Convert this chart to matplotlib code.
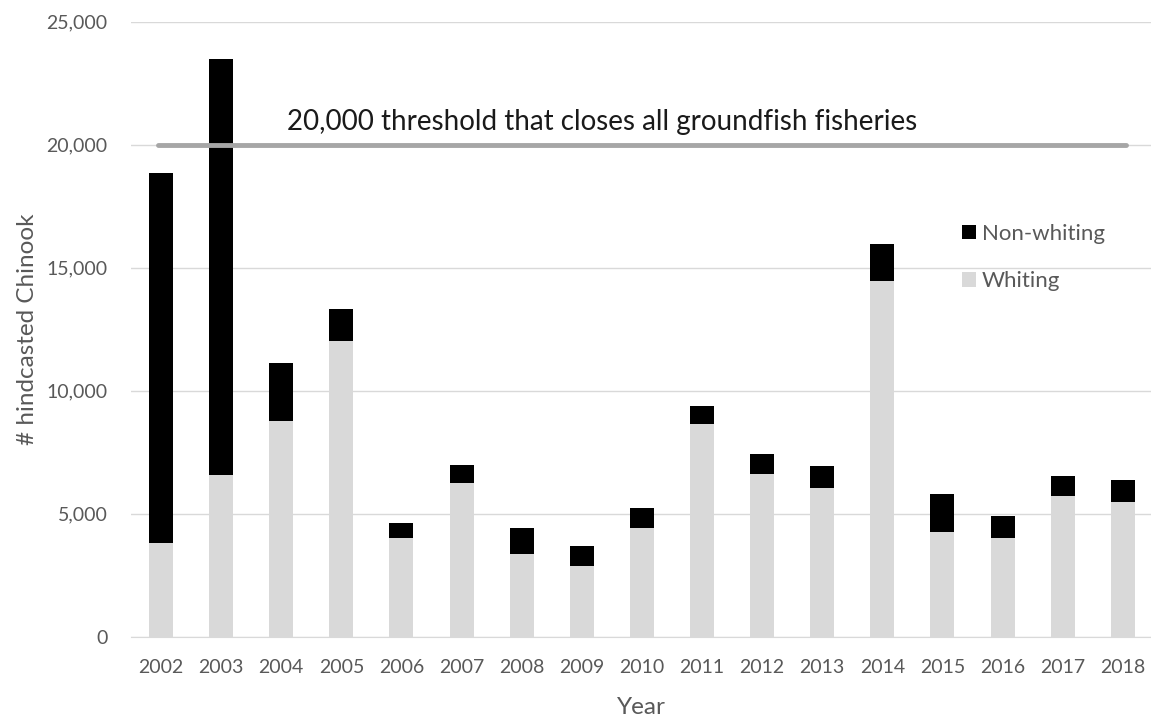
import numpy as np
import matplotlib
matplotlib.use("Agg")
import matplotlib.pyplot as plt
from matplotlib.patches import Patch

# ------------------------------
# Data
# ------------------------------
years = ['2002', '2003', '2004', '2005', '2006', '2007', '2008', '2009', '2010',
         '2011', '2012', '2013', '2014', '2015', '2016', '2017', '2018']
whiting = [3800, 6550, 8760, 12010, 4020, 6230, 3350, 2870, 4400,
           8630, 6610, 6040, 14460, 4260, 4000, 5700, 5470]
total = [18850, 23480, 11100, 13310, 4600, 6960, 4400, 3680, 5220,
         9370, 7400, 6930, 15950, 5800, 4890, 6510, 6350]
non_whiting = [t - w for t, w in zip(total, whiting)]
threshold = 20000
threshold_label = '20,000 threshold that closes all groundfish fisheries'
y_ticks = [0, 5000, 10000, 15000, 20000, 25000]

# ------------------------------
# Plot
# ------------------------------
plt.rcParams['font.family'] = ['Lato', 'DejaVu Sans']
fig = plt.figure(figsize=(11.51, 7.17), dpi=100)
ax = fig.add_axes([131 / 1151, 1 - 636.5 / 717, 1020 / 1151, 615 / 717])

x = np.arange(len(years))
ax.bar(x, whiting, width=0.4, color='#d9d9d9', zorder=2, label='Whiting')
ax.bar(x, non_whiting, width=0.4, bottom=whiting, color='black', zorder=2,
       label='Non-whiting')

ax.plot([x[0] - 0.05, x[-1] + 0.05], [threshold, threshold], color='#a6a6a6',
        lw=3.5, solid_capstyle='round', zorder=3)
ax.text(x[0] + 2.1, threshold + 920, threshold_label, fontsize=20,
        color='#1a1a1a', va='center', ha='left')

ax.set_xlim(-0.5, len(years) - 0.53)
ax.set_ylim(0, 25000)
ax.set_xticks(x)
ax.set_xticklabels(years)
ax.set_yticks(y_ticks)
ax.set_yticklabels([f'{v:,}' for v in y_ticks])
ax.yaxis.grid(True, color='#d9d9d9', lw=1, zorder=0)
ax.set_axisbelow(True)
for s in ['top', 'right', 'left']:
    ax.spines[s].set_visible(False)
ax.spines['bottom'].set_color('#d9d9d9')
ax.tick_params(axis='both', length=0, colors='#595959', labelsize=14)
ax.tick_params(axis='x', pad=16)
ax.tick_params(axis='y', pad=17)

ax.set_xlabel('Year', fontsize=17.5, color='#595959', labelpad=15)
ax.set_ylabel('# hindcasted Chinook', fontsize=17.5, color='#595959', labelpad=6)

handles = [Patch(facecolor='black'), Patch(facecolor='#d9d9d9')]
fig.legend(handles, ['Non-whiting', 'Whiting'], loc='upper left',
           bbox_to_anchor=(962 / 1151, 1 - 224 / 717), frameon=False,
           borderpad=0, borderaxespad=0,
           fontsize=16, labelcolor='#595959', handlelength=0.63,
           handleheight=0.63, handletextpad=0.27, labelspacing=1.22)

plt.savefig('out.png', dpi=100)
